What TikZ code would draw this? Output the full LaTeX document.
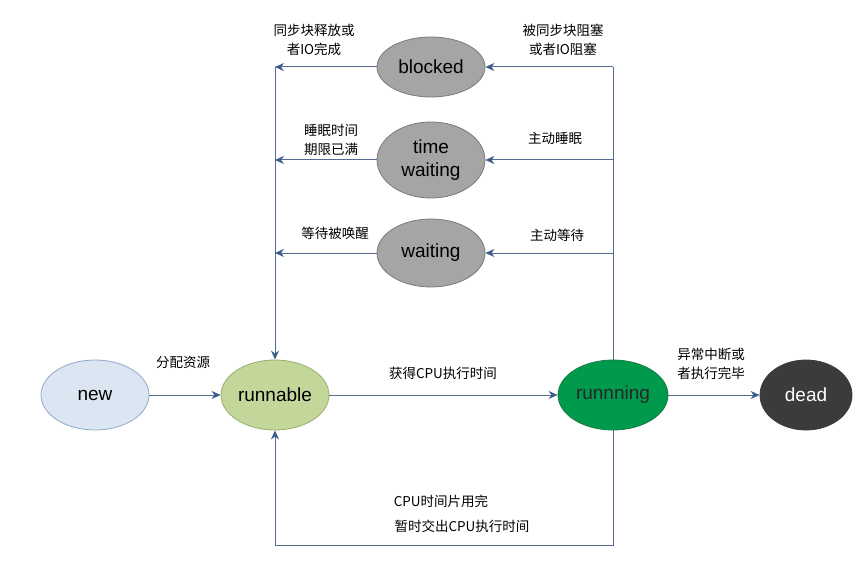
\documentclass[tikz,border=0pt]{standalone}
\usepackage{fontspec}
\setmainfont{Liberation Sans}
\newfontfamily\cjk{Noto Sans CJK SC}
\usepackage{xcolor}
\usetikzlibrary{shapes.geometric, arrows.meta, positioning}

\definecolor{linecol}{HTML}{566C8E}
\definecolor{tipcol}{HTML}{3E5C8A}
\definecolor{newfill}{HTML}{DCE6F2}
\definecolor{newdraw}{HTML}{8EA9C9}
\definecolor{runnablefill}{HTML}{C4D79B}
\definecolor{runnabledraw}{HTML}{9AAE70}
\definecolor{runningfill}{HTML}{009A4C}
\definecolor{runningdraw}{HTML}{1E7A48}
\definecolor{deadfill}{HTML}{3B3B3B}
\definecolor{grayfill}{HTML}{A5A5A5}
\definecolor{graydraw}{HTML}{7A7A7A}

\begin{document}
\begin{tikzpicture}[
    x=1pt, y=-1pt,
    state/.style={draw, ellipse, line width=0.8pt, minimum width=108pt,
      minimum height=70pt, inner sep=0pt, align=center,
      font=\fontsize{19}{23}\selectfont},
    waitstate/.style={state, fill=grayfill, draw=graydraw},
    lbl/.style={align=center, font=\cjk\fontsize{13.5}{19}\selectfont},
    line/.style={draw=linecol, line width=1pt},
    arrow/.style={line, -{Stealth[length=9pt,width=8pt,color=tipcol]}}
]
\useasboundingbox[fill=white] (0,0) rectangle (853,561);

% states
\node[state, fill=newfill, draw=newdraw] (new) at (95,395) {new};
\node[state, fill=runnablefill, draw=runnabledraw] (runnable) at (275,395) {runnable};
\node[state, fill=runningfill, draw=runningdraw, minimum width=110pt, text=black!85] (running) at (613,395) {runnning};
\node[state, fill=deadfill, draw=deadfill, text=white, minimum width=92pt] (dead) at (806,395) {dead};
\node[waitstate, minimum height=60pt] (blocked) at (431,67) {blocked};
\node[waitstate, minimum height=76pt] (timewait) at (431,160) {time\\waiting};
\node[waitstate, minimum height=68pt] (waiting) at (431,253) {waiting};

% corner points
\coordinate (lb) at (275,67);
\coordinate (lt) at (275,160);
\coordinate (lw) at (275,253);
\coordinate (rb) at (613,67);
\coordinate (rt) at (613,160);
\coordinate (rw) at (613,253);
\coordinate (br) at (613,545);
\coordinate (bl) at (275,545);

% connectors
\draw[arrow] (new) -- (runnable);
\draw[arrow] (runnable) -- (running);
\draw[arrow] (running) -- (dead);
\draw[line] (running.north) -- (rb);
\draw[arrow] (rb) -- (blocked);
\draw[arrow] (rt) -- (timewait);
\draw[arrow] (rw) -- (waiting);
\draw[arrow] (blocked) -- (lb);
\draw[arrow] (timewait) -- (lt);
\draw[arrow] (waiting) -- (lw);
\draw[arrow] (lb) -- (runnable.north);
\draw[arrow] (running.south) -- (br) -- (bl) -- (runnable.south);

% labels
\node[lbl] (lblRelease) at (314,40) {同步块释放或\\者IO完成};
\node[lbl] (lblBlock) at (563,40) {被同步块阻塞\\或者IO阻塞};
\node[lbl] (lblExpire) at (331,140) {睡眠时间\\期限已满};
\node[lbl] (lblSleep) at (555,138) {主动睡眠};
\node[lbl] (lblWake) at (335,233) {等待被唤醒};
\node[lbl] (lblWait) at (557,235) {主动等待};
\node[lbl] (lblAlloc) at (183,362) {分配资源};
\node[lbl] (lblCpu) at (443,373) {获得CPU执行时间};
\node[lbl] (lblDead) at (711,364) {异常中断或\\者执行完毕};
\node[lbl] (lblSlice) at (441,501) {CPU时间片用完};
\node[lbl] (lblYield) at (462,526) {暂时交出CPU执行时间};
\end{tikzpicture}
\end{document}
